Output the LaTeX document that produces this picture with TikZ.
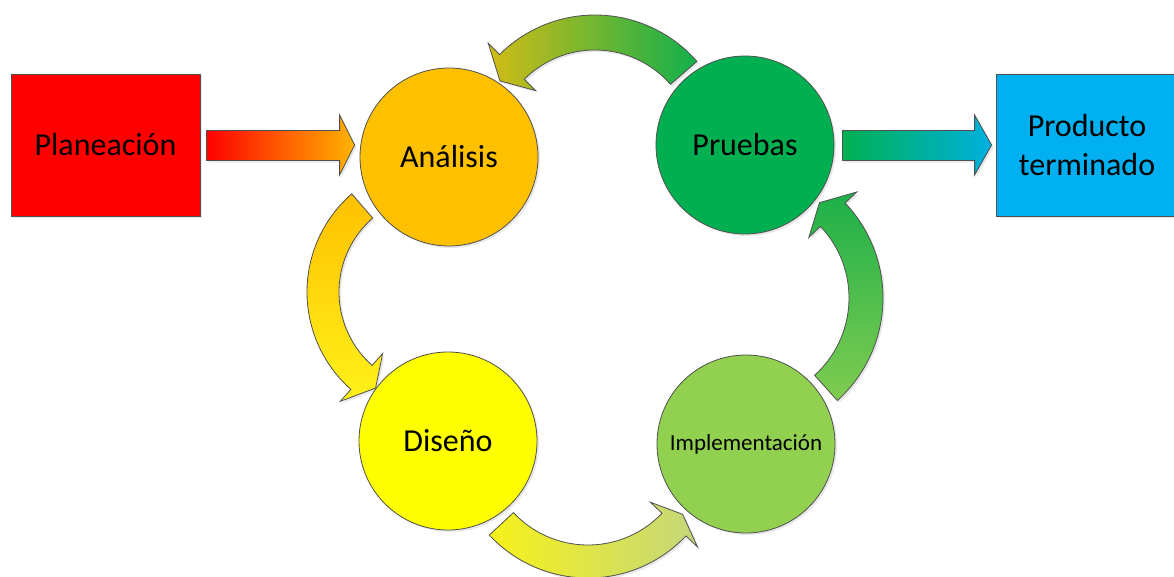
\documentclass[tikz,border=0pt]{standalone}
\usepackage{fontspec}
\setmainfont{Carlito}
\usetikzlibrary{shadows,calc}
\definecolor{outl}{HTML}{505050}
\definecolor{cPlan}{HTML}{FF0000}
\definecolor{cAna}{HTML}{FFC000}
\definecolor{cPru}{HTML}{00B050}
\definecolor{cDis}{HTML}{FFFF00}
\definecolor{cImp}{HTML}{92D050}
\definecolor{cProd}{HTML}{00B0F0}
\definecolor{gOrange}{HTML}{FFB400}
\definecolor{gCyan}{HTML}{00B0E0}
\definecolor{gMustard}{HTML}{D2BC16}
\definecolor{gGreen}{HTML}{12B04C}
\definecolor{gYellow}{HTML}{FFF21A}
\definecolor{gYellowB}{HTML}{F7F21A}
\definecolor{gLime}{HTML}{C4D67C}
\definecolor{gGreenTop}{HTML}{1DB04A}
\definecolor{gGreenBot}{HTML}{80CC50}
% #1 cx, #2 cy, #3 inner r, #4 outer r, #5 tail angle, #6 head base angle, #7 tip angle, #8 style
\newcommand{\blockarc}[8]{%
  \path[#8] plot[domain=#5:#6, samples=60] ({#1+#4*cos(\x)},{#2+#4*sin(\x)})
    -- ({#1+(#4+16)*cos(#6)},{#2+(#4+16)*sin(#6)})
    -- ({#1+(#3+#4)/2*cos(#7)},{#2+(#3+#4)/2*sin(#7)})
    -- ({#1+(#3-16)*cos(#6)},{#2+(#3-16)*sin(#6)})
    -- plot[domain=#6:#5, samples=60] ({#1+#3*cos(\x)},{#2+#3*sin(\x)})
    -- cycle;}
\begin{document}
\begin{tikzpicture}[x=1pt,y=-1pt,
  shad/.style={drop shadow={opacity=0.18, shadow xshift=2pt, shadow yshift=-2pt}},
  txt/.style={font=\fontsize{32}{39}\selectfont, text=black},
  box/.style={draw=outl, line width=0.8pt, minimum height=142pt, inner sep=0pt, txt, shad, align=center},
  circ/.style={circle, draw=outl, line width=0.8pt, minimum size=178pt, inner sep=0pt, txt, shad},
  barrow/.style={draw=outl, line width=0.8pt, line join=miter, shad}]
\useasboundingbox[fill=white] (0,0) rectangle (1174,577);

% curved block arrows
\blockarc{595}{150}{100}{135}{-41}{-135}{-144}{barrow, left color=gMustard, right color=gGreen}
\blockarc{437}{292}{98}{130}{229}{131.5}{122.6}{barrow, top color=cAna, bottom color=gYellow}
\blockarc{588}{443}{102}{135}{137}{43.5}{37}{barrow, left color=gYellowB, right color=gLime}
\blockarc{745}{298}{104}{138}{48}{-43.5}{-52}{barrow, bottom color=gGreenBot, top color=gGreenTop}

% boxes and circles
\node[box, fill=cPlan, minimum width=189pt] (plan) at (105.5,145) {Planeación};
\node[box, fill=cProd, minimum width=182pt] (prod) at (1087,145) {Producto\\terminado};
\node[circ, fill=cAna] (ana) at (449,157) {Análisis};
\node[circ, fill=cPru] (pru) at (745,145) {Pruebas};
\node[circ, fill=cDis] (dis) at (448,441) {Diseño};
\node[circ, fill=cImp, font=\fontsize{23}{28}\selectfont] (imp) at (746,444) {Implementación};

% straight block arrows
\coordinate (a1s) at ([xshift=6pt]plan.east);
\coordinate (a1e) at ([xshift=-5pt]ana.west |- plan.east);
\path[barrow, left color=cPlan, right color=gOrange]
  ($(a1s)+(0,-14.5)$) -- ($(a1e)+(-15,-14.5)$) -- ($(a1e)+(-15,-30)$) -- (a1e)
  -- ($(a1e)+(-15,30)$) -- ($(a1e)+(-15,15.5)$) -- ($(a1s)+(0,15.5)$) -- cycle;
\coordinate (a2s) at ([xshift=8pt]pru.east);
\coordinate (a2e) at ([xshift=-4pt]prod.west);
\path[barrow, left color=cPru, right color=gCyan]
  ($(a2s)+(0,-14.5)$) -- ($(a2e)+(-17,-14.5)$) -- ($(a2e)+(-17,-30)$) -- (a2e)
  -- ($(a2e)+(-17,30)$) -- ($(a2e)+(-17,15.5)$) -- ($(a2s)+(0,15.5)$) -- cycle;
\end{tikzpicture}
\end{document}
